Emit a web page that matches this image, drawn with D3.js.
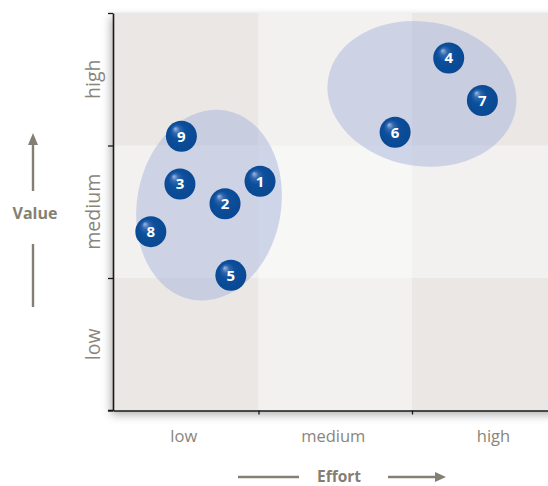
<!DOCTYPE html>
<html>
<head>
<meta charset="utf-8">
<script src="https://cdn.jsdelivr.net/npm/d3@7"></script>
<style>
  html, body { margin: 0; padding: 0; background: #ffffff; }
  svg { display: block; }
</style>
</head>
<body>
<div id="chart"></div>
<script>
// Effort / value portfolio matrix
const levels = ["low", "medium", "high"];

// projects: id, effort and value measured in band units (0..3)
const ids    = [1, 2, 3, 4, 5, 6, 7, 8, 9];
const effort = [1.01, 0.77, 0.46, 2.24, 0.81, 1.89, 2.46, 0.26, 0.47];
const value  = [1.73, 1.56, 1.71, 2.66, 1.02, 2.10, 2.34, 1.35, 2.07];

// project clusters: centre, radii (band units) and tilt in degrees
const clusterEffort = [0.66, 2.065];
const clusterValue  = [1.55, 2.39];
const clusterRx     = [0.495, 0.653];
const clusterRy     = [0.725, 0.545];
const clusterTilt   = [10, 9];

const W = 548, H = 486;

const svg = d3.select("#chart").append("svg")
  .attr("width", W).attr("height", H);

// band boundaries: the first effort band is a little narrower than the others
const x = d3.scaleLinear().domain([0, 1, 2, 3]).range([113, 258.5, 412, 565]);
const y = d3.scaleLinear().domain([0, 3]).range([410.5, 13]);
const span = (s, i) => [s(i), s(i + 1)];

const defs = svg.append("defs");
const shadow = defs.append("filter").attr("id", "plotShadow")
  .attr("filterUnits", "userSpaceOnUse")
  .attr("x", 60).attr("y", -20).attr("width", 600).attr("height", 480);
shadow.append("feDropShadow")
  .attr("dx", -2).attr("dy", 4).attr("stdDeviation", 5)
  .attr("flood-color", "#000").attr("flood-opacity", 0.32);

const ball = defs.append("radialGradient").attr("id", "ball")
  .attr("cx", "0.5").attr("cy", "0.5").attr("r", "0.6")
  .attr("fx", "0.3").attr("fy", "0.25");
ball.append("stop").attr("offset", "0").attr("stop-color", "#9db8e2");
ball.append("stop").attr("offset", "0.2").attr("stop-color", "#2f66ad");
ball.append("stop").attr("offset", "0.42").attr("stop-color", "#0c4f9c");
ball.append("stop").attr("offset", "1").attr("stop-color", "#09468f");

// background cells, shaded by how far each sits from the centre cell
const tone = (i, j) => {
  const outer = (i !== 1) + (j !== 1);
  return outer === 2 ? "#ebe7e4" : outer === 1 ? "#f3f1ef" : "#f7f7f6";
};
const cells = [];
levels.forEach((ex, i) => levels.forEach((vy, j) => cells.push({ i, j })));

const plot = svg.append("g");
plot.append("rect")
  .attr("x", x(0)).attr("y", y(3))
  .attr("width", x(3) - x(0)).attr("height", y(0) - y(3))
  .attr("fill", "#f3f1ef")
  .attr("filter", "url(#plotShadow)");
plot.selectAll("rect.cell").data(cells).join("rect")
  .attr("class", "cell")
  .attr("x", d => x(d.i)).attr("y", d => y(d.j + 1))
  .attr("width", d => x(d.i + 1) - x(d.i))
  .attr("height", d => y(d.j) - y(d.j + 1))
  .attr("fill", d => tone(d.i, d.j));

// cluster ellipses
const clusters = clusterEffort.map((e, k) => ({
  cx: x(e), cy: y(clusterValue[k]),
  rx: x(clusterRx[k]) - x(0), ry: y(0) - y(clusterRy[k]),
  tilt: clusterTilt[k]
}));
svg.append("g").selectAll("ellipse").data(clusters).join("ellipse")
  .attr("transform", d => `translate(${d.cx},${d.cy}) rotate(${d.tilt})`)
  .attr("rx", d => d.rx).attr("ry", d => d.ry)
  .attr("fill", "#a7b3dc").attr("fill-opacity", 0.5);

// axes: ticks mark the band boundaries
const axisColor = "#1a1a1a";
const yAxis = svg.append("g").attr("transform", `translate(${x(0)},0)`)
  .call(d3.axisLeft(y).tickValues([0, 1, 2, 3]).tickFormat("").tickSize(5).tickSizeOuter(0));
const xAxis = svg.append("g").attr("transform", `translate(0,${y(0)})`)
  .call(d3.axisBottom(x).tickValues([1, 2, 3]).tickFormat("").tickSize(4).tickSizeOuter(0));
[yAxis, xAxis].forEach(a => {
  a.select(".domain").attr("stroke", axisColor).attr("stroke-width", 1.6);
  a.selectAll(".tick line").attr("stroke", axisColor).attr("stroke-width", 1.3);
});
// extend the baseline to meet the value ticks
svg.append("line")
  .attr("x1", x(0) - 5).attr("x2", x(0))
  .attr("y1", y(0)).attr("y2", y(0))
  .attr("stroke", axisColor).attr("stroke-width", 1.6);

const labelColor = "#8a8579";
const font = "'Open Sans', 'Noto Sans', sans-serif";

// band labels
svg.append("g").selectAll("text").data(levels).join("text")
  .attr("transform", (d, j) => `translate(${x(0) - 13},${(y(j) + y(j + 1)) / 2}) rotate(-90)`)
  .attr("text-anchor", "middle")
  .attr("font-family", font).attr("font-size", 19.5)
  .attr("fill", labelColor)
  .text(d => d);
const xNudge = [-2, -2, 5];
svg.append("g").selectAll("text").data(levels).join("text")
  .attr("x", (d, i) => (x(i) + x(i + 1)) / 2 + xNudge[i])
  .attr("y", y(0) + 31)
  .attr("text-anchor", "middle")
  .attr("font-family", font).attr("font-size", 16.5)
  .attr("fill", labelColor)
  .text(d => d);

// axis titles with arrows
const arrowGrey = "#857f73";
svg.append("text")
  .attr("x", 339).attr("y", 481.5)
  .attr("text-anchor", "middle")
  .attr("font-family", font).attr("font-size", 15.5).attr("font-weight", 700)
  .attr("fill", arrowGrey).text("Effort");
svg.append("line").attr("x1", 238).attr("x2", 299).attr("y1", 477).attr("y2", 477)
  .attr("stroke", arrowGrey).attr("stroke-width", 2.4);
svg.append("line").attr("x1", 388).attr("x2", 438).attr("y1", 477).attr("y2", 477)
  .attr("stroke", arrowGrey).attr("stroke-width", 2.4);
svg.append("path").attr("d", "M446,477 L435,472 L435,482 Z").attr("fill", arrowGrey);

svg.append("text")
  .attr("x", 35).attr("y", 219)
  .attr("text-anchor", "middle")
  .attr("font-family", font).attr("font-size", 16).attr("font-weight", 700)
  .attr("fill", arrowGrey).text("Value");
svg.append("line").attr("x1", 33).attr("x2", 33).attr("y1", 142).attr("y2", 191)
  .attr("stroke", arrowGrey).attr("stroke-width", 2.4);
svg.append("path").attr("d", "M33,133 L28,145 L38,145 Z").attr("fill", arrowGrey);
svg.append("line").attr("x1", 33).attr("x2", 33).attr("y1", 244).attr("y2", 307)
  .attr("stroke", arrowGrey).attr("stroke-width", 2.4);

// project markers
const projects = ids.map((id, k) => ({ id, e: effort[k], v: value[k] }));
const marker = svg.append("g").selectAll("g").data(projects).join("g")
  .attr("transform", d => `translate(${x(d.e)},${y(d.v)})`);
marker.append("circle").attr("r", 15.5).attr("fill", "url(#ball)");
marker.append("text")
  .attr("text-anchor", "middle").attr("dy", "0.36em")
  .attr("font-family", font).attr("font-size", 15).attr("font-weight", 700)
  .attr("fill", "#ffffff")
  .text(d => d.id);
</script>
</body>
</html>
